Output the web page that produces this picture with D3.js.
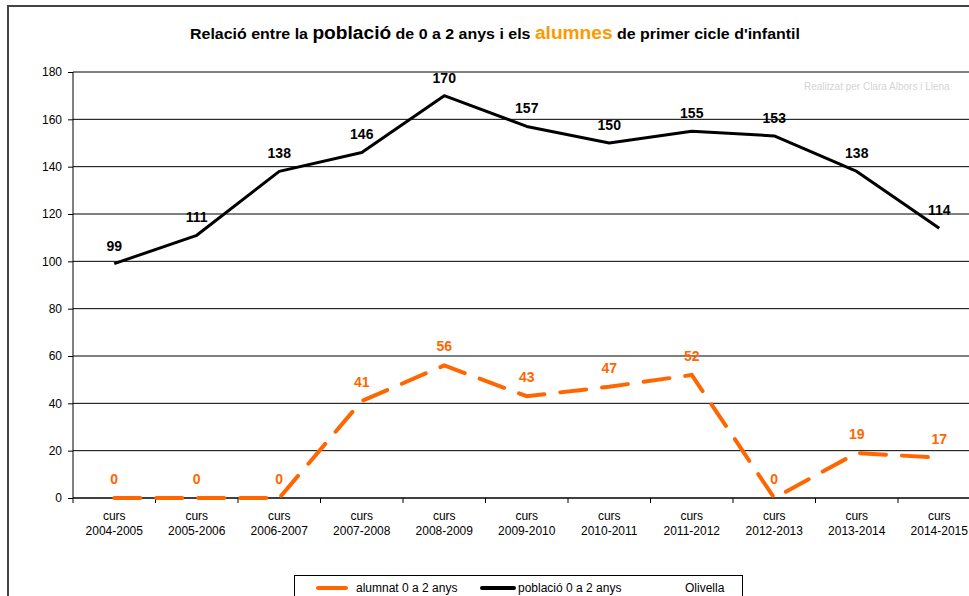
<!DOCTYPE html>
<html><head><meta charset="utf-8">
<script src="https://cdn.jsdelivr.net/npm/d3@7"></script>
<style>body{margin:0;background:#fff;overflow:hidden}svg{display:block;font-family:"Liberation Sans",Arial,Helvetica,sans-serif}</style>
</head><body>
<script>
const categories = ["2004-2005","2005-2006","2006-2007","2007-2008","2008-2009","2009-2010","2010-2011","2011-2012","2012-2013","2013-2014","2014-2015"];
const poblacio = [99,111,138,146,170,157,150,155,153,138,114];
const alumnat = [0,0,0,41,56,43,47,52,0,19,17];
const yTicks = [0,20,40,60,80,100,120,140,160,180];
const legendLabels = ["alumnat 0 a 2 anys","població 0 a 2 anys","Olivella"];

const W=969,H=596;
const svg=d3.select("body").append("svg").attr("width",W).attr("height",H);
// outer frame
svg.append("rect").attr("x",8).attr("y",6).attr("width",1100).attr("height",700).attr("fill","none").attr("stroke","#444").attr("stroke-width",2);

// title
const t=svg.append("text").attr("x",495).attr("y",39).attr("text-anchor","middle").attr("font-weight","bold").attr("font-size",15).attr("fill","#000")
 .attr("textLength",610).attr("lengthAdjust","spacingAndGlyphs");
t.append("tspan").text("Relació entre la ");
t.append("tspan").attr("font-size",18).text("població");
t.append("tspan").text(" de 0 a 2 anys i els ");
t.append("tspan").attr("font-size",18).attr("fill","#FF9900").text("alumnes");
t.append("tspan").text(" de primer cicle d'infantil");

const x=d3.scaleBand().domain(categories).range([73,73+82.5*11]).padding(0);
const y=d3.scaleLinear().domain([0,180]).range([498,72]);

// grid
svg.append("g").selectAll("line").data(yTicks.filter(d=>d>0)).join("line")
 .attr("x1",73).attr("x2",W).attr("y1",d=>y(d)).attr("y2",d=>y(d)).attr("stroke","#000").attr("stroke-width",1);

// watermark
svg.append("text").attr("x",804).attr("y",90).attr("font-size",10).attr("fill","#d4d4d4")
 .text("Realitzat per Clara Albors i Llena");

// y axis
const ya=svg.append("g").attr("transform","translate(73,0)").call(d3.axisLeft(y).tickValues(yTicks).tickSize(5).tickPadding(6));
ya.selectAll("text").attr("font-size",12).attr("fill","#000").attr("font-family","Liberation Sans, Arial, sans-serif");
ya.selectAll("line,path").attr("stroke","#000");
ya.select(".domain").attr("d","M0,498V72");

// x axis
const xa=svg.append("g").attr("transform","translate(0,498)");
xa.append("line").attr("x1",73).attr("x2",W).attr("stroke","#000").attr("stroke-width",1.5);
xa.selectAll("line.tk").data(categories.concat(["end"])).join("line").attr("class","tk")
 .attr("x1",(d,i)=>x.range()[0]+i*x.bandwidth()).attr("x2",(d,i)=>x.range()[0]+i*x.bandwidth()).attr("y1",0).attr("y2",5).attr("stroke","#000");
const xl=xa.selectAll("text.cat").data(categories).join("text").attr("class","cat")
 .attr("x",d=>x(d)+x.bandwidth()/2).attr("text-anchor","middle").attr("font-size",12).attr("fill","#000");
xl.append("tspan").attr("x",d=>x(d)+x.bandwidth()/2).attr("y",22).text("curs");
xl.append("tspan").attr("x",d=>x(d)+x.bandwidth()/2).attr("y",37).text(d=>d);

const cx=d=>x(d)+x.bandwidth()/2;
const line=d3.line().x((d,i)=>cx(categories[i])).y(d=>y(d));

svg.append("path").datum(poblacio).attr("d",line).attr("fill","none").attr("stroke","#000").attr("stroke-width",3).attr("stroke-linejoin","round");
svg.append("path").datum(alumnat).attr("d",line).attr("fill","none").attr("stroke","#FF6600").attr("stroke-width",4).attr("stroke-linecap","round").attr("stroke-dasharray","26,16");

svg.append("g").selectAll("text").data(poblacio).join("text")
 .attr("x",(d,i)=>cx(categories[i])).attr("y",d=>y(d)-13).attr("text-anchor","middle").attr("font-weight","bold").attr("font-size",14).attr("fill","#000").text(d=>d);
svg.append("g").selectAll("text").data(alumnat).join("text")
 .attr("x",(d,i)=>cx(categories[i])).attr("y",d=>y(d)-14).attr("text-anchor","middle").attr("font-weight","bold").attr("font-size",14).attr("fill","#FF6600").text(d=>d);

// legend
const lg=svg.append("g");
lg.append("rect").attr("x",294.5).attr("y",575.5).attr("width",448).attr("height",40).attr("fill","#fff").attr("stroke","#000");
lg.append("line").attr("x1",318).attr("x2",346).attr("y1",588).attr("y2",588).attr("stroke","#FF6600").attr("stroke-width",4).attr("stroke-linecap","round");
lg.append("text").attr("x",356).attr("y",592).attr("font-size",12).text(legendLabels[0]);
lg.append("line").attr("x1",482).attr("x2",514).attr("y1",588).attr("y2",588).attr("stroke","#000").attr("stroke-width",4).attr("stroke-linecap","round");
lg.append("text").attr("x",518).attr("y",592).attr("font-size",12).text(legendLabels[1]);
lg.append("text").attr("x",685).attr("y",592).attr("font-size",12).text(legendLabels[2]);
</script>
</body></html>
